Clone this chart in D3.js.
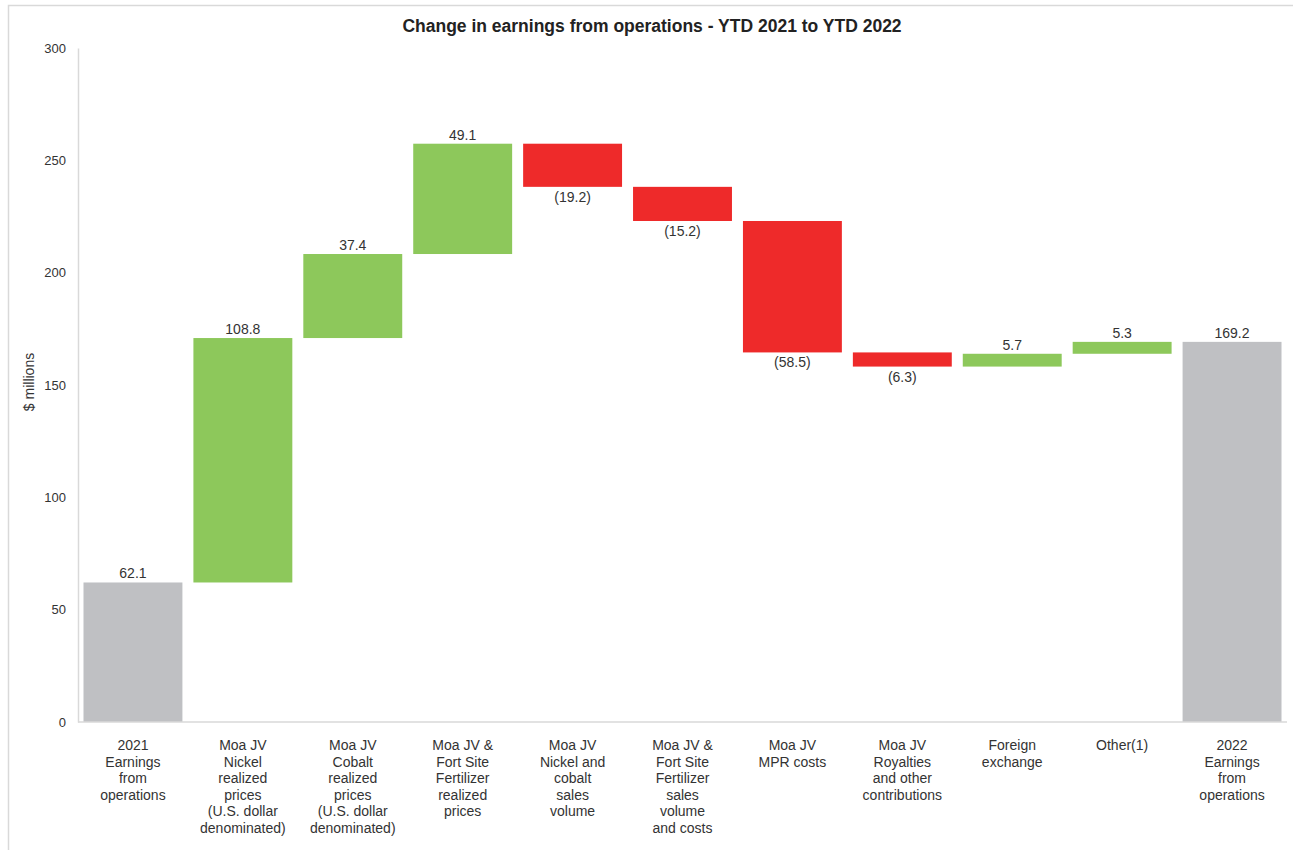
<!DOCTYPE html>
<html>
<head>
<meta charset="utf-8">
<script src="https://cdn.jsdelivr.net/npm/d3@7"></script>
<style>
  html, body { margin: 0; padding: 0; background: #fff; }
  svg { display: block; font-family: "Liberation Sans", Arial, sans-serif; }
</style>
</head>
<body>
<svg id="chart" width="1293" height="850"></svg>
<script>
// Waterfall: earnings from operations bridge, YTD 2021 -> YTD 2022 ($ millions)
const categories = [
  ["2021", "Earnings", "from", "operations"],
  ["Moa JV", "Nickel", "realized", "prices", "(U.S. dollar", "denominated)"],
  ["Moa JV", "Cobalt", "realized", "prices", "(U.S. dollar", "denominated)"],
  ["Moa JV &", "Fort Site", "Fertilizer", "realized", "prices"],
  ["Moa JV", "Nickel and", "cobalt", "sales", "volume"],
  ["Moa JV &", "Fort Site", "Fertilizer", "sales", "volume", "and costs"],
  ["Moa JV", "MPR costs"],
  ["Moa JV", "Royalties", "and other", "contributions"],
  ["Foreign", "exchange"],
  ["Other(1)"],
  ["2022", "Earnings", "from", "operations"]
];
// kind: "total" bars start at zero; "delta" bars float on the running total
const kinds  = ["total", "delta", "delta", "delta", "delta", "delta", "delta", "delta", "delta", "delta", "total"];
const values = [62.1, 108.8, 37.4, 49.1, -19.2, -15.2, -58.5, -6.3, 5.7, 5.3, 169.2];
const yTicks = [0, 50, 100, 150, 200, 250, 300];

const colors = { total: "#bfc0c3", up: "#8dc85b", down: "#ee2a2a" };
const textColor = "#333333";

const svg = d3.select("#chart");

// outer frame
svg.append("rect")
  .attr("x", 8.5).attr("y", 5.5)
  .attr("width", 1293).attr("height", 860)
  .attr("fill", "none").attr("stroke", "#d9d9d9").attr("stroke-width", 1.5);

const x = d3.scaleBand()
  .domain(d3.range(categories.length))
  .range([78, 1287])
  .paddingInner(0.1)
  .paddingOuter(0.05);

const y = d3.scaleLinear().domain([0, 300]).range([722, 48]);

// running totals -> bar extents
let running = 0;
const bars = values.map((v, i) => {
  let y0, y1;
  if (kinds[i] === "total") {
    y0 = 0; y1 = v; running = v;
  } else {
    y0 = running; y1 = running + v; running = y1;
  }
  const color = kinds[i] === "total" ? colors.total : (v >= 0 ? colors.up : colors.down);
  return { i, v, y0, y1, lo: Math.min(y0, y1), hi: Math.max(y0, y1), kind: kinds[i], color };
});

// title
svg.append("text")
  .attr("x", 652).attr("y", 32)
  .attr("text-anchor", "middle")
  .attr("font-size", 17.5).attr("font-weight", "bold")
  .attr("fill", "#222")
  .text("Change in earnings from operations - YTD 2021 to YTD 2022");

// y axis
const yAxis = d3.axisLeft(y).tickValues(yTicks).tickSize(0).tickPadding(12);
const gy = svg.append("g").attr("transform", "translate(78,0)").call(yAxis);
gy.select(".domain").attr("stroke", "#d9d9d9").attr("stroke-width", 1.5);
gy.selectAll("text").attr("font-size", 13).attr("fill", textColor)
  .attr("font-family", "Liberation Sans, Arial, sans-serif");

svg.append("text")
  .attr("transform", "translate(34,382) rotate(-90)")
  .attr("text-anchor", "middle")
  .attr("font-size", 14).attr("fill", textColor)
  .text("$ millions");

// bars
svg.append("g").selectAll("rect").data(bars).join("rect")
  .attr("x", d => x(d.i))
  .attr("width", x.bandwidth())
  .attr("y", d => y(d.hi))
  .attr("height", d => y(d.lo) - y(d.hi))
  .attr("fill", d => d.color);

// x axis baseline
svg.append("line")
  .attr("x1", 78).attr("x2", 1287)
  .attr("y1", y(0)).attr("y2", y(0))
  .attr("stroke", "#d9d9d9").attr("stroke-width", 1.5);

// value labels
const fmt = v => v < 0 ? "(" + d3.format(".1f")(-v) + ")" : d3.format(".1f")(v);
svg.append("g").selectAll("text").data(bars).join("text")
  .attr("x", d => x(d.i) + x.bandwidth() / 2)
  .attr("y", d => d.v >= 0 ? y(d.hi) - 4 : y(d.lo) + 15)
  .attr("text-anchor", "middle")
  .attr("font-size", 14).attr("fill", textColor)
  .text(d => fmt(d.v));

// category labels
const cat = svg.append("g").selectAll("text").data(categories).join("text")
  .attr("x", (d, i) => x(i) + x.bandwidth() / 2)
  .attr("y", 750)
  .attr("text-anchor", "middle")
  .attr("font-size", 14).attr("fill", textColor);
cat.selectAll("tspan").data(d => d).join("tspan")
  .attr("x", function () { return d3.select(this.parentNode).attr("x"); })
  .attr("dy", (d, j) => j === 0 ? 0 : 16.5)
  .text(d => d);
</script>
</body>
</html>
